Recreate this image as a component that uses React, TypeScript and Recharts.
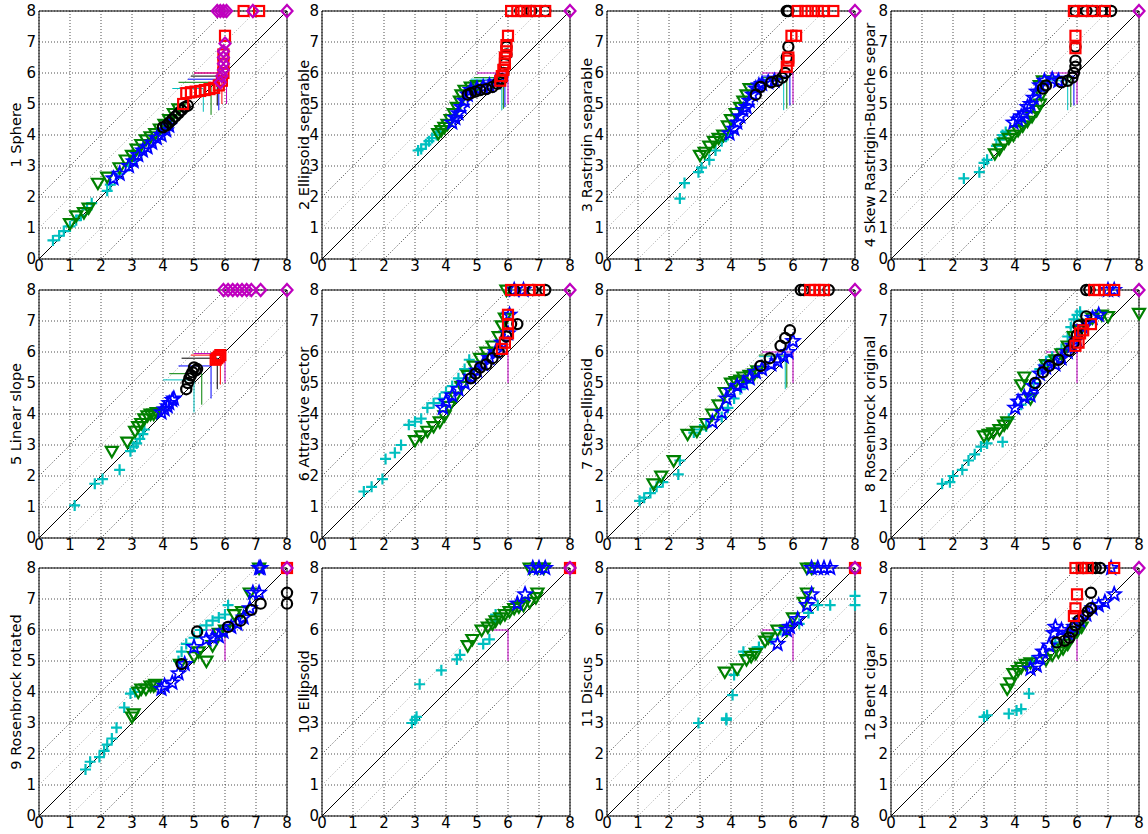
import React from 'react';
import { ScatterChart, Scatter, XAxis, YAxis, CartesianGrid, ReferenceLine, ReferenceArea } from 'recharts';

type Pt = [number, number];
// [algorithm index, x start, x corner, y, y end]
type Budget = [number, number, number, number, number];

const titles = [
  '1 Sphere', '2 Ellipsoid separable', '3 Rastrigin separable', '4 Skew Rastrigin-Bueche separ',
  '5 Linear slope', '6 Attractive sector', '7 Step-ellipsoid', '8 Rosenbrock original',
  '9 Rosenbrock rotated', '10 Ellipsoid', '11 Discus', '12 Bent cigar',
];
const ticks = [0, 1, 2, 3, 4, 5, 6, 7, 8];
const diagOffsets = [-2, -1, 1, 2];

// f1 Sphere
const f1A: Pt[] = [[0.45, 0.6], [0.65, 0.75], [0.8, 0.9], [1.0, 1.05], [1.2, 1.25], [1.35, 1.4], [1.55, 1.6], [1.7, 1.8], [2.2, 2.2], [2.3, 2.4], [2.6, 2.75], [2.9, 3.0], [3.1, 3.2], [3.3, 3.45]];
const f1B: Pt[] = [[1.0, 1.15], [1.2, 1.4], [1.45, 1.5], [1.6, 1.65], [1.9, 2.45], [2.2, 2.65], [2.6, 2.95], [2.8, 3.2], [3.0, 3.35], [3.15, 3.55], [3.3, 3.7], [3.45, 3.85], [3.6, 3.95], [3.75, 4.05], [3.9, 4.2], [4.05, 4.35], [4.2, 4.5], [4.35, 4.7], [4.5, 4.85]];
const f1C: Pt[] = [[2.4, 2.6], [2.6, 2.75], [2.9, 3.0], [3.05, 3.15], [3.2, 3.35], [3.35, 3.5], [3.5, 3.6], [3.65, 3.75], [3.8, 3.9], [3.95, 4.0], [4.1, 4.15], [4.2, 4.3]];
const f1D: Pt[] = [[4.0, 4.25], [4.1, 4.3], [4.2, 4.4], [4.3, 4.5], [4.4, 4.6], [4.5, 4.7], [4.6, 4.8], [4.7, 4.9], [4.8, 4.95]];
const f1E: Pt[] = [[4.65, 5.0], [4.75, 5.35], [4.9, 5.38], [5.05, 5.4], [5.2, 5.42], [5.35, 5.45], [5.5, 5.48], [5.65, 5.52], [5.8, 5.6], [5.9, 5.75], [5.95, 6.0], [5.95, 6.3], [5.95, 6.6], [6.0, 7.2], [6.6, 8], [7.1, 8]];
const f1F: Pt[] = [[5.85, 5.7], [5.9, 5.9], [5.95, 6.1], [5.95, 6.3], [5.95, 6.5], [5.95, 6.7], [6.0, 6.95], [5.75, 8], [5.85, 8], [5.95, 8], [6.05, 8], [6.9, 8], [8, 8]];
const f1Budget: Budget[] = [[0, 4.3, 5.3, 5.5, 4.75], [1, 4.5, 5.55, 5.7, 4.65], [2, 4.8, 5.8, 5.8, 4.8], [3, 4.9, 5.75, 5.9, 4.95], [4, 5.0, 5.9, 6.0, 5.0], [5, 5.0, 6.05, 6.0, 5.0]];

// f2 Ellipsoid separable
const f2A: Pt[] = [[3.1, 3.5], [3.2, 3.55], [3.35, 3.7], [3.45, 3.8], [3.55, 3.9], [3.7, 4.0], [3.8, 4.1]];
const f2B: Pt[] = [[3.75, 4.05], [3.85, 4.15], [3.95, 4.25], [4.05, 4.35], [4.15, 4.5], [4.25, 4.7], [4.35, 4.9], [4.45, 5.1], [4.5, 5.3], [4.6, 5.45], [4.8, 5.55], [5.0, 5.6]];
const f2C: Pt[] = [[4.2, 4.4], [4.3, 4.55], [4.4, 4.7], [4.5, 4.9], [4.6, 5.1], [4.7, 5.3], [4.8, 5.45], [5.0, 5.5], [5.2, 5.55], [5.4, 5.6], [5.6, 5.7]];
const f2D: Pt[] = [[4.7, 5.3], [4.8, 5.35], [4.95, 5.4], [5.1, 5.45], [5.3, 5.48], [5.5, 5.55], [5.65, 5.65], [5.8, 5.8], [5.85, 6.0], [5.9, 6.3], [5.95, 6.6], [5.95, 6.85], [6.4, 8], [6.75, 8], [7.2, 8]];
const f2E: Pt[] = [[5.75, 5.75], [5.8, 5.9], [5.85, 6.1], [5.9, 6.3], [5.9, 6.5], [5.95, 6.7], [5.95, 6.9], [6.0, 7.2], [6.1, 8], [6.3, 8], [6.5, 8], [6.7, 8], [6.9, 8], [7.2, 8]];
const f2F: Pt[] = [[8, 8]];
const f2Budget: Budget[] = [[0, 4.8, 5.8, 5.8, 4.8], [1, 4.9, 5.85, 5.85, 4.85], [2, 5.0, 5.9, 5.75, 4.9], [5, 5.0, 6.0, 6.0, 5.0]];

// f3 Rastrigin separable
const f3A: Pt[] = [[2.35, 1.95], [2.5, 2.45], [2.95, 2.8], [3.05, 2.95], [3.3, 3.2], [3.5, 3.5], [3.7, 3.8], [3.9, 4.0]];
const f3B: Pt[] = [[3.0, 3.35], [3.15, 3.45], [3.3, 3.65], [3.45, 3.8], [3.6, 3.9], [3.75, 4.0], [3.9, 4.3], [4.0, 4.5], [4.15, 4.7], [4.3, 4.9], [4.4, 5.1], [4.5, 5.3], [4.6, 5.5]];
const f3C: Pt[] = [[3.95, 4.05], [4.1, 4.2], [4.2, 4.4], [4.3, 4.6], [4.4, 4.8], [4.5, 4.9], [4.6, 5.1], [4.7, 5.3], [4.8, 5.5], [4.9, 5.6], [5.0, 5.65], [5.2, 5.7], [5.4, 5.75]];
const f3D: Pt[] = [[4.8, 5.3], [4.95, 5.55], [5.3, 5.7], [5.5, 5.75], [5.65, 5.85], [5.75, 6.0], [5.8, 6.5], [5.85, 6.85], [5.8, 8], [5.85, 8]];
const f3E: Pt[] = [[5.8, 6.2], [5.85, 6.4], [5.85, 6.5], [5.95, 7.2], [6.1, 7.2], [6.15, 8], [6.4, 8], [6.6, 8], [6.8, 8], [7.0, 8], [7.3, 8]];
const f3F: Pt[] = [[8, 8]];
const f3Budget: Budget[] = [[0, 4.9, 5.7, 5.8, 4.8], [1, 5.0, 5.8, 5.85, 4.85], [2, 5.0, 5.9, 5.9, 4.95], [5, 5.0, 6.0, 6.0, 5.0]];

// f4 Skew Rastrigin-Bueche
const f4A: Pt[] = [[2.35, 2.6], [2.85, 2.8], [3.0, 3.1], [3.1, 3.2], [3.4, 3.65], [3.5, 3.85], [3.6, 4.0], [3.7, 4.1]];
const f4B: Pt[] = [[3.35, 3.4], [3.5, 3.55], [3.65, 3.75], [3.8, 3.9], [3.95, 4.0], [4.1, 4.15], [4.25, 4.3], [4.4, 4.45], [4.55, 4.6], [4.7, 4.8], [4.8, 5.0], [4.85, 5.3], [4.8, 5.6], [4.9, 5.75]];
const f4C: Pt[] = [[3.95, 4.4], [4.1, 4.5], [4.2, 4.6], [4.3, 4.7], [4.4, 4.9], [4.5, 5.0], [4.6, 5.2], [4.7, 5.4], [4.8, 5.6], [4.95, 5.75], [5.2, 5.8], [5.4, 5.75]];
const f4D: Pt[] = [[4.9, 5.5], [5.0, 5.6], [5.5, 5.7], [5.7, 5.75], [5.85, 5.85], [5.9, 6.0], [5.95, 6.2], [5.95, 6.4], [5.95, 6.85], [5.95, 8], [6.3, 8], [6.5, 8], [6.8, 8], [7.1, 8]];
const f4E: Pt[] = [[5.95, 6.8], [5.95, 7.2], [5.9, 8], [6.2, 8], [6.5, 8], [6.9, 8]];
const f4F: Pt[] = [[8, 8]];
const f4Budget: Budget[] = [[0, 4.9, 5.7, 5.75, 4.8], [1, 5.0, 5.8, 5.85, 4.9], [2, 5.0, 5.9, 5.9, 4.95], [5, 5.1, 6.0, 6.0, 5.0]];

// f5 Linear slope
const f5A: Pt[] = [[1.15, 1.05], [1.8, 1.75], [2.05, 1.9], [2.6, 2.2], [2.95, 2.8], [3.05, 2.95], [3.15, 3.05], [3.25, 3.2], [3.35, 3.35], [3.4, 3.5]];
const f5B: Pt[] = [[2.35, 2.8], [2.85, 3.1], [3.1, 3.45], [3.2, 3.6], [3.3, 3.7], [3.4, 3.85], [3.5, 3.95], [3.6, 4.0], [3.7, 4.0], [3.8, 4.05]];
const f5C: Pt[] = [[3.95, 4.05], [4.05, 4.15], [4.15, 4.25], [4.2, 4.35], [4.3, 4.45], [4.35, 4.5]];
const f5D: Pt[] = [[4.75, 4.8], [4.8, 5.0], [4.85, 5.15], [4.9, 5.25], [4.95, 5.35], [5.05, 5.4], [5.1, 5.45], [5.0, 5.5]];
const f5E: Pt[] = [[5.7, 5.75], [5.75, 5.8], [5.8, 5.85], [5.85, 5.9]];
const f5F: Pt[] = [[5.95, 8], [6.1, 8], [6.25, 8], [6.4, 8], [6.55, 8], [6.7, 8], [6.85, 8], [7.15, 8], [8, 8]];
const f5Budget: Budget[] = [[0, 4.0, 5.0, 5.1, 4.05], [1, 4.2, 5.25, 5.3, 4.3], [2, 4.5, 5.55, 5.55, 4.5], [3, 4.6, 5.75, 5.8, 4.8], [4, 4.9, 5.85, 5.9, 4.95], [5, 5.0, 6.0, 5.95, 5.0]];

// f6 Attractive sector
const f6A: Pt[] = [[1.35, 1.5], [1.6, 1.65], [1.95, 1.9], [2.05, 2.55], [2.35, 2.75], [2.55, 3.0], [2.8, 3.65], [3.0, 3.75], [3.2, 3.85], [3.4, 4.2], [3.6, 4.35], [3.8, 4.5], [4.0, 4.7], [4.2, 4.9], [4.4, 5.15], [4.6, 5.45], [4.75, 5.75]];
const f6B: Pt[] = [[3.0, 3.15], [3.2, 3.3], [3.4, 3.45], [3.6, 3.6], [3.8, 3.75], [3.95, 3.95], [4.1, 4.25], [4.3, 4.55], [4.5, 4.9], [4.7, 5.25], [4.9, 5.55], [5.1, 5.8], [5.3, 6.0], [5.5, 6.2], [5.7, 6.5], [5.8, 6.85], [5.9, 7.1], [5.95, 8]];
const f6C: Pt[] = [[3.9, 4.2], [4.0, 4.4], [4.2, 4.6], [4.4, 4.8], [4.6, 5.0], [4.8, 5.2], [5.0, 5.4], [5.2, 5.6], [5.4, 5.8], [5.6, 6.0], [5.8, 6.3], [6.0, 6.6], [6.05, 7.2], [6.2, 8], [6.5, 8]];
const f6D: Pt[] = [[4.8, 5.15], [4.95, 5.3], [5.1, 5.5], [5.3, 5.6], [5.5, 5.8], [5.7, 6.0], [5.95, 6.5], [6.1, 6.9], [6.3, 6.9], [6.2, 8], [6.8, 8], [7.2, 8]];
const f6E: Pt[] = [[5.8, 6.1], [5.9, 6.3], [6.0, 6.6], [6.0, 6.9], [6.0, 7.2], [6.1, 8], [6.4, 8], [6.7, 8], [7.0, 8]];
const f6F: Pt[] = [[8, 8]];
const f6Budget: Budget[] = [[5, 5.8, 6.0, 6.0, 5.0]];

// f7 Step-ellipsoid
const f7A: Pt[] = [[1.05, 1.2], [1.2, 1.3], [1.4, 1.45], [1.6, 1.65], [1.8, 1.8], [2.3, 2.05], [2.35, 2.5], [2.8, 3.4], [3.0, 3.5], [3.2, 3.6], [3.7, 3.9], [3.9, 4.2], [4.1, 4.5], [4.3, 4.8], [4.5, 5.0]];
const f7B: Pt[] = [[1.5, 1.75], [1.75, 2.0], [2.15, 2.5], [2.6, 3.35], [2.9, 3.45], [3.2, 3.7], [3.4, 4.0], [3.6, 4.3], [3.8, 4.7], [4.0, 5.0], [4.15, 5.05], [4.3, 5.1], [4.4, 5.2], [4.6, 5.25], [4.75, 5.3], [4.85, 5.4]];
const f7C: Pt[] = [[3.4, 3.75], [3.7, 4.05], [3.85, 4.5], [4.0, 4.75], [4.2, 4.9], [4.4, 5.0], [4.6, 5.15], [4.8, 5.35], [5.0, 5.45], [5.3, 5.6], [5.5, 5.7], [5.7, 5.85], [5.85, 6.0], [6.0, 6.35]];
const f7D: Pt[] = [[4.95, 5.55], [5.25, 5.8], [5.6, 6.2], [5.75, 6.45], [5.9, 6.7], [6.25, 8], [6.35, 8], [7.15, 8]];
const f7E: Pt[] = [[6.55, 8], [6.7, 8], [6.85, 8], [7.0, 8]];
const f7F: Pt[] = [[8, 8]];
const f7Budget: Budget[] = [[0, 4.9, 5.75, 5.85, 4.8], [1, 4.9, 5.8, 5.9, 4.85], [5, 5.0, 6.0, 6.0, 5.0]];

// f8 Rosenbrock original
const f8A: Pt[] = [[1.65, 1.75], [1.9, 1.8], [2.0, 2.0], [2.3, 2.2], [2.5, 2.5], [2.7, 2.7], [2.9, 2.95], [3.1, 3.05], [3.6, 3.1], [3.8, 3.85], [4.2, 4.3], [4.5, 4.6], [4.6, 5.0], [4.8, 5.45], [5.0, 5.7], [5.2, 5.85], [5.5, 6.1], [5.7, 6.5], [5.8, 6.8], [5.9, 7.05], [6.0, 7.2], [6.1, 7.3]];
const f8B: Pt[] = [[3.0, 3.3], [3.15, 3.35], [3.3, 3.4], [3.5, 3.5], [3.65, 3.65], [3.75, 3.75], [4.2, 4.95], [4.3, 5.2], [4.5, 4.5], [5.0, 5.6], [5.3, 5.75], [5.5, 5.95], [5.7, 6.2], [5.9, 6.5], [6.1, 6.7], [6.3, 6.9], [6.5, 7.1], [6.8, 7.2], [7.0, 7.15], [8.0, 7.25]];
const f8C: Pt[] = [[4.0, 4.2], [4.1, 4.4], [4.3, 4.55], [4.5, 4.6], [4.6, 4.9], [4.8, 5.3], [5.0, 5.5], [5.3, 5.6], [5.5, 5.8], [5.7, 6.0], [5.85, 6.2], [6.0, 6.4], [6.2, 6.8], [6.5, 7.1], [6.7, 7.2], [7.0, 8], [7.2, 8]];
const f8D: Pt[] = [[4.65, 5.0], [4.9, 5.35], [5.1, 5.55], [5.4, 5.75], [5.75, 6.05], [5.9, 6.3], [6.0, 6.55], [6.05, 6.85], [6.3, 7.15], [6.3, 8], [6.4, 8]];
const f8E: Pt[] = [[5.95, 6.2], [6.05, 6.3], [6.1, 6.6], [6.2, 6.7], [6.45, 6.9], [6.55, 8], [6.7, 8], [6.9, 8], [7.2, 8]];
const f8F: Pt[] = [[8, 8]];
const f8Budget: Budget[] = [[5, 5.0, 6.0, 6.0, 5.0]];

// f9 Rosenbrock rotated
const f9A: Pt[] = [[1.5, 1.5], [1.65, 1.75], [1.95, 1.9], [2.1, 2.1], [2.2, 2.3], [2.35, 2.5], [2.5, 2.85], [2.75, 3.5], [2.95, 3.95], [3.1, 4.0], [4.5, 5.0], [4.6, 5.3], [4.75, 5.55], [5.0, 5.75], [5.2, 6.0], [5.4, 6.15], [5.6, 6.3], [5.8, 6.4], [6.0, 6.5], [6.1, 6.8]];
const f9B: Pt[] = [[3.0, 3.2], [3.05, 3.3], [3.2, 4.0], [3.3, 4.1], [3.45, 4.1], [3.6, 4.2], [3.7, 4.2], [3.75, 4.25], [4.55, 4.9], [5.0, 5.15], [5.15, 5.3], [5.4, 5.0], [5.6, 5.5], [5.8, 5.9], [6.0, 6.0], [6.3, 6.5], [6.55, 6.6], [6.8, 7.2], [7.1, 8]];
const f9C: Pt[] = [[3.95, 4.1], [4.05, 4.2], [4.3, 4.3], [4.5, 4.6], [4.7, 4.9], [5.0, 5.45], [5.4, 5.7], [5.6, 5.75], [5.8, 5.8], [5.95, 5.95], [6.2, 6.1], [6.4, 6.2], [6.6, 6.4], [6.8, 6.7], [6.9, 7.2], [7.1, 7.2], [7.1, 8], [7.15, 8]];
const f9D: Pt[] = [[4.6, 4.9], [5.1, 5.95], [6.1, 6.1], [6.5, 6.3], [6.85, 6.65], [7.15, 6.85], [8.0, 6.85], [8.0, 7.2]];
const f9E: Pt[] = [[8, 8]];
const f9F: Pt[] = [[8, 8]];
const f9Budget: Budget[] = [[5, 5.1, 6.0, 6.0, 5.0]];

// f10 Ellipsoid
const f10A: Pt[] = [[2.9, 3.0], [3.0, 3.1], [3.05, 3.2], [3.15, 4.25], [3.85, 4.7], [4.35, 5.05], [4.45, 5.2], [5.2, 5.55], [5.4, 5.7], [5.6, 6.3], [5.6, 6.5]];
const f10B: Pt[] = [[4.7, 5.5], [4.85, 5.7], [5.15, 6.0], [5.35, 6.1], [5.5, 6.2], [5.6, 6.3], [5.75, 6.4], [5.9, 6.5], [6.05, 6.6], [6.2, 6.7], [6.35, 6.75], [6.5, 6.8], [6.7, 6.9], [6.9, 7.05], [6.95, 7.2], [6.7, 8], [6.95, 8], [7.15, 8]];
const f10C: Pt[] = [[6.3, 6.85], [6.55, 7.15], [6.8, 8], [7.0, 8], [7.2, 8]];
const f10D: Pt[] = [[8, 8]];
const f10E: Pt[] = [[8, 8]];
const f10F: Pt[] = [[8, 8]];
const f10Budget: Budget[] = [[5, 5.2, 6.0, 6.0, 5.0]];

// f11 Discus
const f11A: Pt[] = [[2.95, 3.0], [3.85, 3.1], [3.85, 3.15], [4.05, 3.9], [4.1, 4.55], [4.4, 5.3], [4.7, 5.3], [4.9, 5.45], [5.3, 5.7], [5.6, 6.0], [6.2, 6.2], [6.5, 6.55], [6.8, 6.8], [7.2, 6.8], [8.0, 6.8], [8.0, 7.1]];
const f11B: Pt[] = [[3.8, 4.65], [4.2, 4.75], [4.5, 5.05], [4.65, 5.15], [4.8, 5.25], [5.1, 5.65], [5.2, 5.75], [5.5, 6.0], [5.8, 6.0], [6.0, 6.4], [6.35, 6.9], [6.45, 7.2], [6.45, 8], [6.6, 8]];
const f11C: Pt[] = [[5.5, 5.55], [5.8, 6.0], [5.9, 6.1], [6.15, 6.35], [6.45, 6.8], [6.6, 7.15], [6.6, 8], [6.8, 8], [7.0, 8], [7.2, 8]];
const f11D: Pt[] = [[8, 8]];
const f11E: Pt[] = [[8, 8]];
const f11F: Pt[] = [[8, 8]];
const f11Budget: Budget[] = [[5, 5.0, 6.0, 6.0, 5.0]];

// f12 Bent cigar
const f12A: Pt[] = [[3.0, 3.2], [3.1, 3.25], [3.8, 3.3], [4.05, 3.4], [4.2, 3.45], [4.45, 3.95], [4.55, 5.0], [5.3, 5.6]];
const f12B: Pt[] = [[3.75, 4.1], [3.85, 4.3], [3.95, 4.6], [4.1, 4.7], [4.2, 4.8], [4.35, 4.9], [4.5, 4.95], [5.0, 5.05], [5.2, 5.2], [5.4, 5.3], [5.55, 5.4], [5.7, 5.55], [5.85, 5.8], [6.0, 5.95], [6.15, 6.1]];
const f12C: Pt[] = [[4.5, 4.75], [4.7, 4.85], [4.8, 5.1], [4.9, 5.3], [5.1, 5.5], [5.25, 5.9], [5.3, 6.1], [5.5, 6.0], [5.7, 5.9], [5.9, 6.1], [6.1, 6.3], [6.3, 6.5], [6.5, 6.7], [6.7, 6.8], [6.9, 6.9], [7.2, 7.15], [7.1, 8]];
const f12D: Pt[] = [[5.35, 5.6], [5.6, 5.65], [5.75, 5.75], [5.85, 5.95], [5.95, 6.15], [6.05, 6.3], [6.2, 6.45], [6.35, 6.6], [6.45, 6.7], [6.45, 7.2], [6.2, 8], [6.5, 8], [6.6, 8], [6.75, 8]];
const f12E: Pt[] = [[5.9, 6.45], [5.95, 6.7], [6.0, 7.15], [5.95, 8], [6.15, 8], [6.35, 8], [7.2, 8]];
const f12F: Pt[] = [[8, 8]];
const f12Budget: Budget[] = [[5, 5.1, 6.0, 6.0, 5.0]];

const panelSeries: Pt[][][] = [
  [f1A, f1B, f1C, f1D, f1E, f1F],
  [f2A, f2B, f2C, f2D, f2E, f2F],
  [f3A, f3B, f3C, f3D, f3E, f3F],
  [f4A, f4B, f4C, f4D, f4E, f4F],
  [f5A, f5B, f5C, f5D, f5E, f5F],
  [f6A, f6B, f6C, f6D, f6E, f6F],
  [f7A, f7B, f7C, f7D, f7E, f7F],
  [f8A, f8B, f8C, f8D, f8E, f8F],
  [f9A, f9B, f9C, f9D, f9E, f9F],
  [f10A, f10B, f10C, f10D, f10E, f10F],
  [f11A, f11B, f11C, f11D, f11E, f11F],
  [f12A, f12B, f12C, f12D, f12E, f12F],
];
const panelBudgets: Budget[][] = [f1Budget, f2Budget, f3Budget, f4Budget, f5Budget, f6Budget, f7Budget, f8Budget, f9Budget, f10Budget, f11Budget, f12Budget];

const colors = ['#00BFBF', '#008000', '#0000FF', '#000000', '#FF0000', '#BF00BF'];
const plotLefts = [39, 322, 607, 891];
const plotTops = [11, 290, 568];
const labelXs = [16, 304, 587, 870];
const PLOT = 248;
const font = 'DejaVu Sans, sans-serif';

const starPath = (cx: number, cy: number) => {
  let d = '';
  for (let i = 0; i < 10; i++) {
    const r = i % 2 === 0 ? 7 : 3;
    const a = -Math.PI / 2 + (i * Math.PI) / 5;
    d += (i === 0 ? 'M' : 'L') + (cx + r * Math.cos(a)).toFixed(2) + ',' + (cy + r * Math.sin(a)).toFixed(2);
  }
  return d + 'Z';
};

const markerFor = (k: number) => (p: any) => {
  const { cx, cy } = p;
  const c = colors[k];
  if (cx == null || cy == null) return <g />;
  switch (k) {
    case 0:
      return <path d={`M${cx - 5.5},${cy}H${cx + 5.5}M${cx},${cy - 5.5}V${cy + 5.5}`} stroke={c} strokeWidth={2.2} fill="none" />;
    case 1:
      return <path d={`M${cx - 6},${cy - 4.3}L${cx + 6},${cy - 4.3}L${cx},${cy + 6}Z`} stroke={c} strokeWidth={2.2} fill="none" />;
    case 2:
      return <path d={starPath(cx, cy)} stroke={c} strokeWidth={1.8} fill="none" />;
    case 3:
      return <circle cx={cx} cy={cy} r={5.1} stroke={c} strokeWidth={2.2} fill="none" />;
    case 4:
      return <rect x={cx - 5} y={cy - 5} width={10} height={10} stroke={c} strokeWidth={2.2} fill="none" />;
    default:
      return <path d={`M${cx},${cy - 6}L${cx + 5.5},${cy}L${cx},${cy + 6}L${cx - 5.5},${cy}Z`} stroke={c} strokeWidth={2.2} fill="none" />;
  }
};

const Panel: React.FC<{ idx: number }> = ({ idx }) => {
  const col = idx % 4;
  const row = Math.floor(idx / 4);
  const left = plotLefts[col];
  const top = plotTops[row];
  return (
    <>
      <div style={{ position: 'absolute', left: left - 40, top: top - 10 }}>
        <ScatterChart width={40 + PLOT + 12} height={10 + PLOT + 27} margin={{ top: 10, right: 12, bottom: 0, left: 0 }}>
          <CartesianGrid stroke="#222" strokeDasharray="1 2" strokeWidth={0.8} />
          <XAxis type="number" dataKey="x" domain={[0, 8]} ticks={ticks} interval={0} tickLine={false} axisLine={false}
            tickSize={0} tickMargin={1} height={27} tick={{ fontSize: 15, fill: '#000', fontFamily: font }} />
          <YAxis type="number" dataKey="y" domain={[0, 8]} ticks={ticks} interval={0} tickLine={false} axisLine={false}
            tickSize={0} tickMargin={3} width={40} tick={{ fontSize: 15, fill: '#000', fontFamily: font }} />
          {diagOffsets.map((d) => (
            <ReferenceLine key={'d' + d}
              segment={d > 0 ? [{ x: 0, y: d }, { x: 8 - d, y: 8 }] : [{ x: -d, y: 0 }, { x: 8, y: 8 + d }]}
              stroke={Math.abs(d) === 1 ? '#999' : '#222'} strokeDasharray="1 2" strokeWidth={0.9} />
          ))}
          <ReferenceLine segment={[{ x: 0, y: 0 }, { x: 8, y: 8 }]} stroke="#000" strokeWidth={1} />
          {panelBudgets[idx].map(([k, x0, x1, y, y1], i) => (
            <ReferenceLine key={'h' + i} segment={[{ x: x0, y }, { x: x1, y }]} stroke={colors[k]} strokeWidth={1} />
          ))}
          {panelBudgets[idx].map(([k, x0, x1, y, y1], i) => (
            <ReferenceLine key={'v' + i} segment={[{ x: x1, y }, { x: x1, y: y1 }]} stroke={colors[k]} strokeWidth={1} />
          ))}
          <ReferenceArea x1={0} x2={8} y1={0} y2={8} fill="none" fillOpacity={0} stroke="#000" strokeWidth={1} />
          {panelSeries[idx].map((pts, k) => (
            <Scatter key={k} data={pts.map(([x, y]) => ({ x, y }))} shape={markerFor(k)} isAnimationActive={false} />
          ))}
        </ScatterChart>
      </div>
      <div style={{
        position: 'absolute', left: labelXs[col], top: top + PLOT / 2,
        transform: 'translate(-50%, -50%) rotate(-90deg)', fontSize: 14.5, fontFamily: font,
        whiteSpace: 'nowrap', color: '#000', lineHeight: 1,
      }}>
        {titles[idx]}
      </div>
    </>
  );
};

const App: React.FC = () => (
  <div style={{ position: 'absolute', left: 0, top: 0, width: 1148, height: 834, background: '#fff' }}>
    {titles.map((_, i) => <Panel key={i} idx={i} />)}
  </div>
);

export default App;
